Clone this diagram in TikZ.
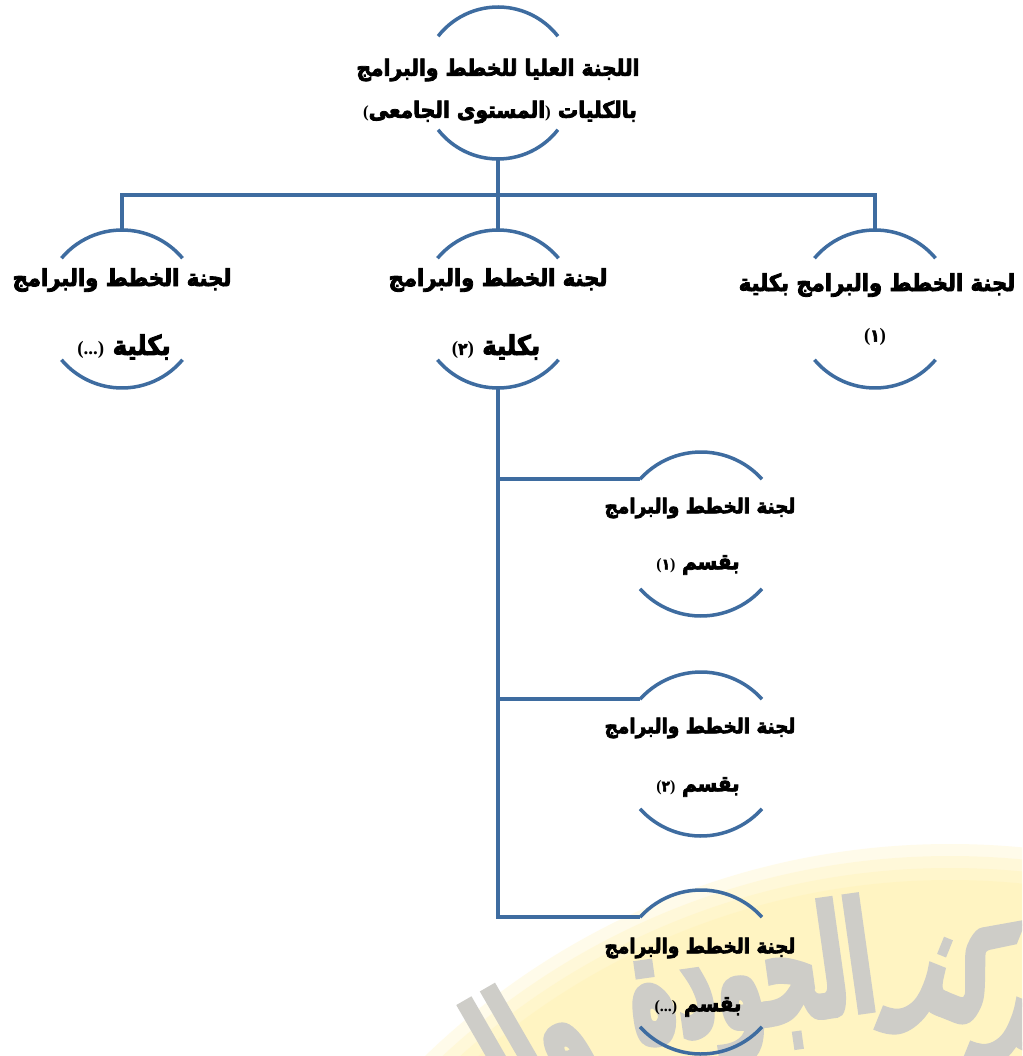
\documentclass[tikz,border=0pt]{standalone}
\usepackage{fontspec}
\TeXXeTstate=1
\newfontfamily\arb[Script=Arabic, FakeStretch=0.9, BoldFeatures={FakeBold=3.5}]{DejaVu Sans}
\newfontfamily\arbmark[Script=Arabic, BoldFeatures={FakeBold=5}]{DejaVu Sans}
\newfontfamily\parenfont{Liberation Serif}
\definecolor{linkblue}{RGB}{62,108,160}
\definecolor{glow}{RGB}{255,240,160}
\definecolor{markgray}{RGB}{206,205,200}

% left-to-right pieces (brackets and numbers) inside right-to-left lines
\newcommand\ltrpart[2][19]{\beginL{\parenfont\fontsize{#1}{#1}\selectfont #2}\endL}
\newcommand\arnum[2][17]{{\arb\bfseries\fontsize{#1}{#1}\selectfont #2}}
\newcommand\brk[1]{{\parenfont\fontsize{17}{17}\selectfont #1}}

% two open arcs of a ring: #1 node, #2 radius, #3 half opening angle
\newcommand\ringarcs[3]{%
  \draw[arcline] ([shift={(#1)}]{270-#3}:#2) arc[start angle={270-#3}, end angle={270+#3}, radius=#2];
  \draw[arcline] ([shift={(#1)}]{90-#3}:#2) arc[start angle={90-#3}, end angle={90+#3}, radius=#2];}

\tikzset{
  ring/.style={circle, draw=none, inner sep=0pt, outer sep=0pt, minimum size=#1},
  arcline/.style={draw=linkblue, line width=3.5pt},
  conn/.style={draw=linkblue, line width=3.5pt},
  toptxt/.style={inner sep=0pt, font=\arb\bfseries\fontsize{22.5}{26}\selectfont},
  midtxt/.style={inner sep=0pt, font=\arb\bfseries\fontsize{23.5}{26}\selectfont},
  midtxtb/.style={inner sep=0pt, font=\arb\bfseries\fontsize{27}{30}\selectfont},
  subtxt/.style={inner sep=0pt, font=\arb\bfseries\fontsize{20.5}{24}\selectfont},
  subtxtb/.style={inner sep=0pt, font=\arb\bfseries\fontsize{22}{24}\selectfont},
  marktxt/.style={inner sep=0pt, text=markgray, font=\arbmark\bfseries\fontsize{150}{160}\selectfont},
}

\begin{document}
\begin{tikzpicture}[x=1pt,y=-1pt]
\useasboundingbox (0,0) rectangle (1022,1056);
\fill[white] (0,0) rectangle (1022,1056);

% watermark: pale yellow disc with grey lettering
\begin{scope}
  \clip (0,0) rectangle (1022,1056);
  \foreach \r in {756,744,732,720}
    \fill[glow, opacity=0.22] (950,1600) circle[radius=\r];
  \node[marktxt, anchor=base west, rotate=-22] (wm1) at (893,994) {\scalebox{0.52}[1]{\beginR مركز\endR}};
  \node[marktxt, anchor=base east, rotate=8] (wm2) at (880,1008) {\scalebox{0.52}[1]{\beginR الجودة\endR}};
  \node[marktxt, anchor=base east, rotate=30] (wm3) at (600,1058) {\scalebox{0.52}[1]{\beginR وال\endR}};
\end{scope}

% rings
\node[ring=152] (top) at (498,83) {};
\node[ring=158] (cL) at (122,309) {};
\node[ring=158] (cM) at (498,309) {};
\node[ring=158] (cR) at (875,309) {};
\node[ring=164] (s1) at (701,534) {};
\node[ring=164] (s2) at (701,754) {};
\node[ring=164] (s3) at (701,972) {};

\ringarcs{top}{76}{52}
\ringarcs{cL}{79}{50}
\ringarcs{cM}{79}{50}
\ringarcs{cR}{79}{50}
\ringarcs{s1}{82}{48}
\ringarcs{s2}{82}{48}
\ringarcs{s3}{82}{48}

% connectors
\coordinate (bus) at (498,195);
\draw[conn] (top.south) -- (bus);
\draw[conn] (cL.north) |- (bus) -| (cR.north);
\draw[conn] (bus) -- (cM.north);
\draw[conn] (cM.south) |- (s3.138);
\draw[conn] (s1.138) -- (s1.138 -| cM.south);
\draw[conn] (s2.138) -- (s2.138 -| cM.south);

% labels
\node[toptxt] (topa) at (498,70) {\beginR اللجنة العليا للخطط والبرامج\endR};
\node[toptxt] (topb) at (500,112) {\beginR بالكليات \brk{)}المستوى الجامعى\brk{(}\endR};

\node[midtxt] (cLa) at (122,280) {\beginR لجنة الخطط والبرامج\endR};
\node[midtxtb] (cLb) at (124,347) {\beginR بكلية \ltrpart{(...)}\endR};
\node[midtxt] (cMa) at (498,280) {\beginR لجنة الخطط والبرامج\endR};
\node[midtxtb] (cMb) at (496,347) {\beginR بكلية \ltrpart{(\arnum{٢})}\endR};
\node[midtxt] (cRa) at (877,285) {\beginR لجنة الخطط والبرامج بكلية\endR};
\node[midtxt] (cRb) at (875,337) {\ltrpart{(\arnum{١})}};

\node[subtxt] (s1a) at (700,508) {\beginR لجنة الخطط والبرامج\endR};
\node[subtxtb] (s1b) at (698,565) {\beginR بقسم \ltrpart[16]{(\arnum[15]{١})}\endR};
\node[subtxt] (s2a) at (700,728) {\beginR لجنة الخطط والبرامج\endR};
\node[subtxtb] (s2b) at (698,787) {\beginR بقسم \ltrpart[16]{(\arnum[15]{٢})}\endR};
\node[subtxt] (s3a) at (700,948) {\beginR لجنة الخطط والبرامج\endR};
\node[subtxtb] (s3b) at (698,1007) {\beginR بقسم \ltrpart[16]{(...)}\endR};
\end{tikzpicture}
\end{document}
